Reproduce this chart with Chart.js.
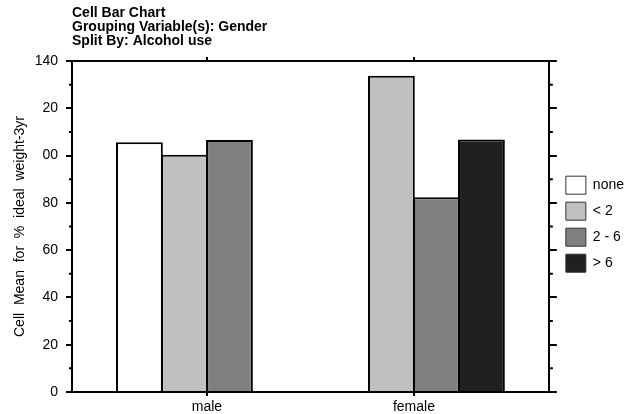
<!DOCTYPE html>
<html>
<head>
<meta charset="utf-8">
<script src="https://cdn.jsdelivr.net/npm/chart.js@4.4.0/dist/chart.umd.min.js"></script>
<style>
  html, body { margin: 0; padding: 0; background: #fff; }
  #wrap { width: 631px; height: 414px; }
</style>
</head>
<body>
<div id="wrap"><canvas id="myChart"></canvas></div>
<script>
// categories (placed at x = 0, 1 on a linear axis)
const categories = ['male', 'female'];
const seriesNames = ['none', '< 2', '2 - 6', '> 6'];
const seriesColors = ['#ffffff', '#c0c0c0', '#808080', '#202020'];

// cell means for % ideal weight-3yr
const noneValues = [105.6, null];
const lt2Values = [100.4, 133.8];
const mid26Values = [106.6, 82.4];
const gt6Values = [null, 106.8];

// y tick labels as printed (leading digits clipped in the original)
const yTickValues = [0, 20, 40, 60, 80, 100, 120, 140];
const yTickLabels = ['0', '20', '40', '60', '80', '00', '20', '140'];
const yMinorValues = [10, 30, 50, 70, 90, 110, 130];

const seriesValues = [noneValues, lt2Values, mid26Values, gt6Values];
const FONT = 'Liberation Sans, Arial, sans-serif';

const ctx = document.getElementById('myChart');

// short minor ticks on the left and right axes
const minorTicks = {
    id: 'minorTicks',
    afterDraw(chart) {
        const c = chart.ctx;
        const y = chart.scales.y;
        const area = chart.chartArea;
        c.save();
        c.strokeStyle = '#000';
        c.lineWidth = 2;
        yMinorValues.forEach(v => {
            const py = y.getPixelForValue(v);
            c.beginPath();
            c.moveTo(area.left - 3, py);
            c.lineTo(area.left, py);
            c.moveTo(area.right, py);
            c.lineTo(area.right + 4, py);
            c.stroke();
        });
        c.restore();
    }
};

const catTicks = scale => {
    scale.ticks = categories.map((c, i) => ({ value: i }));
};

new Chart(ctx, {
    type: 'bar',
    data: {
        datasets: seriesNames.map((name, k) => ({
            label: name,
            data: seriesValues[k].map((v, i) => ({ x: i, y: v })),
            backgroundColor: seriesColors[k],
            borderColor: '#000',
            borderWidth: 2,
            categoryPercentage: 0.87,
            barPercentage: 1.04
        }))
    },
    plugins: [minorTicks],
    options: {
        responsive: true,
        maintainAspectRatio: false,
        animation: false,
        layout: { padding: { right: -3 } },
        plugins: {
            tooltip: { enabled: false },
            title: {
                display: true,
                text: ['Cell Bar Chart', 'Grouping Variable(s): Gender', 'Split By: Alcohol use'],
                align: 'start',
                fullSize: false,
                color: '#000',
                font: { family: FONT, size: 14, weight: 'bold', lineHeight: 1.0 },
                padding: { top: 6.5, bottom: 4.5 }
            },
            legend: {
                position: 'right',
                align: 'center',
                title: { display: true, text: ' ', font: { size: 12 }, padding: 10 },
                labels: {
                    color: '#000',
                    font: { family: FONT, size: 14 },
                    boxWidth: 20,
                    boxHeight: 18,
                    padding: 8,
                    generateLabels(chart) {
                        return chart.data.datasets.map((ds, i) => ({
                            text: ds.label,
                            fillStyle: ds.backgroundColor,
                            strokeStyle: '#333',
                            fontColor: '#000',
                            lineWidth: 1,
                            hidden: false,
                            datasetIndex: i
                        }));
                    }
                }
            }
        },
        scales: {
            x: {
                type: 'linear',
                position: 'bottom',
                offset: false,
                min: -0.652,
                max: 1.652,
                afterBuildTicks: catTicks,
                afterFit: s => { s.height = 22; },
                ticks: {
                    color: '#000',
                    font: { family: FONT, size: 14 },
                    padding: 3,
                    callback: v => categories[v]
                },
                grid: { offset: false, drawOnChartArea: false, color: '#000', lineWidth: 2, tickLength: 4 },
                border: { display: true, color: '#000', width: 2 }
            },
            x2: {
                type: 'linear',
                position: 'top',
                offset: false,
                min: -0.652,
                max: 1.652,
                afterBuildTicks: catTicks,
                afterFit: s => { s.height = 8; },
                ticks: { display: false },
                grid: { offset: false, drawOnChartArea: false, color: '#000', lineWidth: 2, tickLength: 4 },
                border: { display: true, color: '#000', width: 2 }
            },
            y: {
                position: 'left',
                min: 0,
                max: 140,
                afterBuildTicks: s => { s.ticks = yTickValues.map(v => ({ value: v })); },
                afterFit: s => { s.width = 72; },
                ticks: {
                    color: '#000',
                    font: { family: FONT, size: 14 },
                    padding: 8,
                    callback: v => yTickLabels[yTickValues.indexOf(v)]
                },
                title: {
                    display: true,
                    text: 'Cell  Mean  for  %  ideal  weight-3yr',
                    color: '#000',
                    font: { family: FONT, size: 14 },
                    padding: { top: 12, bottom: 0 }
                },
                grid: { drawOnChartArea: false, color: '#000', lineWidth: 2, tickLength: 6 },
                border: { display: true, color: '#000', width: 2 }
            },
            y2: {
                position: 'right',
                min: 0,
                max: 140,
                afterBuildTicks: s => { s.ticks = yTickValues.map(v => ({ value: v })); },
                afterFit: s => { s.width = 9; },
                ticks: { display: false },
                grid: { drawOnChartArea: false, color: '#000', lineWidth: 2, tickLength: 8 },
                border: { display: true, color: '#000', width: 2 }
            }
        }
    }
});
</script>
</body>
</html>
